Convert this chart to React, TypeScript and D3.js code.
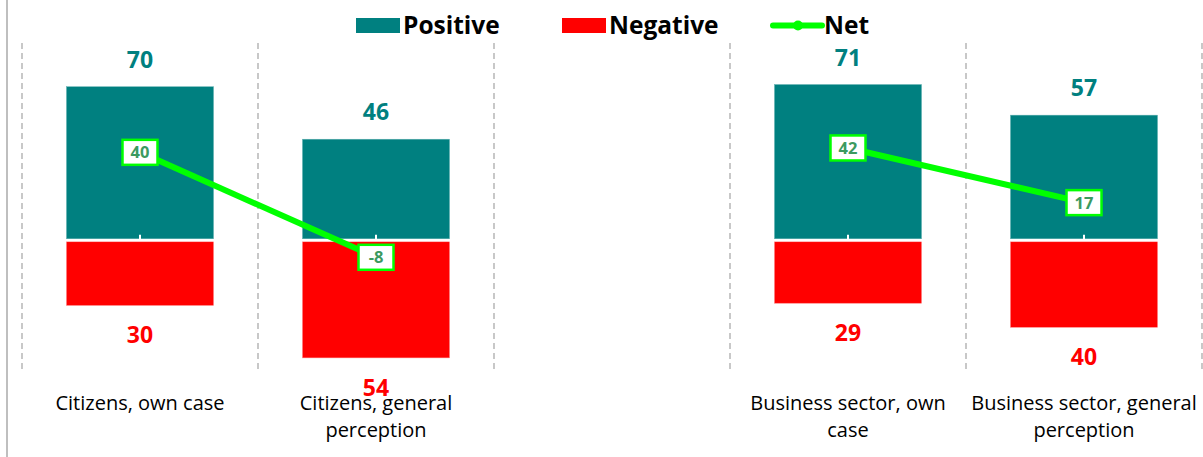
import React from "react";
import * as d3 from "d3";

const categories = ["c1", "c2", "gap", "b1", "b2"];
const categoryLines: string[][] = [
  ["Citizens, own case"],
  ["Citizens, general", "perception"],
  [],
  ["Business sector, own", "case"],
  ["Business sector, general", "perception"],
];
const positiveValues: (number | null)[] = [70, 46, null, 71, 57];
const negativeValues: (number | null)[] = [30, 54, null, 29, 40];
const netValues: (number | null)[] = [40, -8, null, 42, 17];

const W = 1203;
const H = 457;
const TEAL = "#008080";
const RED = "#ff0000";
const GREEN = "#00ff00";
const FONT = "'Open Sans', Lato, sans-serif";

export default function App() {
  const x = d3
    .scaleBand<string>()
    .domain(categories)
    .range([22, 1202])
    .paddingInner(0.377)
    .paddingOuter(0.1885);
  const y = d3.scaleLinear().domain([-60, 90]).range([371, 43]);
  const step = x.step();
  const bw = x.bandwidth();
  const cx = (c: string) => (x(c) as number) + bw / 2;
  const y0 = y(0);

  const boundaries = d3.range(categories.length + 1).map((i) => 22 + i * step);

  const netSegments: [number, number][][] = [];
  let cur: [number, number][] = [];
  categories.forEach((c, i) => {
    const v = netValues[i];
    if (v == null) {
      if (cur.length) netSegments.push(cur);
      cur = [];
    } else cur.push([cx(c), y(v)]);
  });
  if (cur.length) netSegments.push(cur);
  const line = d3.line();

  return (
    <svg width={W} height={H} style={{ position: "absolute", left: 0, top: 0, background: "#fff" }}>
      <line x1={7} x2={7} y1={0} y2={H} stroke="#bfbfbf" strokeWidth={2} />
      {boundaries.map((bx, i) => (
        <line key={i} x1={bx} x2={bx} y1={y(90)} y2={y(-60)} stroke="#c8c8c8" strokeWidth={2} strokeDasharray="6,4" />
      ))}
      {categories.map((c, i) => {
        const p = positiveValues[i];
        const n = negativeValues[i];
        return (
          <g key={c}>
            {p != null && (
              <rect x={x(c)} y={y(p)} width={bw} height={y0 - y(p) - 1} fill={TEAL} stroke="#5fb0b0" strokeWidth={0.5} />
            )}
            {n != null && (
              <rect x={x(c)} y={y0 + 2} width={bw} height={y(-n) - y0 - 2} fill={RED} stroke="#ff8080" strokeWidth={0.5} />
            )}
          </g>
        );
      })}
      <line x1={22} x2={1202} y1={y0 + 0.5} y2={y0 + 0.5} stroke="#fff" strokeWidth={2} />
      {categories.map((c) => (
        <line key={c} x1={cx(c)} x2={cx(c)} y1={y0 - 5} y2={y0} stroke="#fff" strokeWidth={2} />
      ))}
      {categories.map((c, i) => {
        const p = positiveValues[i];
        const n = negativeValues[i];
        return (
          <g key={c} fontFamily={FONT} fontWeight="bold" fontSize={23} textAnchor="middle">
            {p != null && (
              <text x={cx(c)} y={y(p) - 19} fill={TEAL}>{p}</text>
            )}
            {n != null && (
              <text x={cx(c)} y={y(-n) + 38} fill={RED}>{n}</text>
            )}
          </g>
        );
      })}
      {netSegments.map((s, i) => (
        <path key={i} d={line(s) as string} fill="none" stroke={GREEN} strokeWidth={6} />
      ))}
      {categories.map((c, i) => {
        const v = netValues[i];
        if (v == null) return null;
        const w = String(v).length > 1 ? 35 : 31;
        return (
          <g key={c}>
            <rect x={cx(c) - w / 2} y={y(v) - 12.5} width={w} height={25} fill="#fff" stroke={GREEN} strokeWidth={2.5} />
            <text x={cx(c)} y={y(v) + 6} textAnchor="middle" fontFamily={FONT} fontWeight="bold" fontSize={16.5} fill="#3c9a5f">{v}</text>
          </g>
        );
      })}
      {categories.map((c, i) => (
        <text key={c} textAnchor="middle" fontFamily={FONT} fontSize={20} fill="#000">
          {categoryLines[i].map((l, j) => (
            <tspan key={j} x={cx(c)} y={410 + j * 27}>{l}</tspan>
          ))}
        </text>
      ))}
      <g fontFamily={FONT} fontWeight="bold" fontSize={24.5} fill="#000">
        <rect x={356} y={18} width={44} height={15} fill={TEAL} />
        <text x={403} y={34}>Positive</text>
        <rect x={562} y={18} width={44} height={15} fill={RED} />
        <text x={609} y={34}>Negative</text>
        <line x1={773} x2={822} y1={25.5} y2={25.5} stroke={GREEN} strokeWidth={6} strokeLinecap="round" />
        <circle cx={798} cy={25.5} r={5} fill={GREEN} />
        <text x={824} y={34}>Net</text>
      </g>
    </svg>
  );
}
